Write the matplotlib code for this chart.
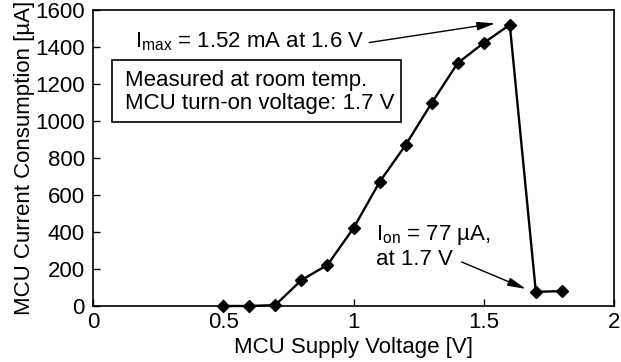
import matplotlib
matplotlib.use("Agg")
import matplotlib.pyplot as plt
from matplotlib.patches import Rectangle

plt.rcParams["font.family"] = ["Liberation Sans", "DejaVu Sans"]
plt.rcParams["mathtext.fontset"] = "custom"
plt.rcParams["mathtext.rm"] = "Liberation Sans"
plt.rcParams["mathtext.it"] = "Liberation Sans"

# ── Measured supply sweep ───────────────────────────────────────────────────────
voltage_v  = [0.5, 0.6, 0.7, 0.8, 0.9, 1.0, 1.1, 1.2, 1.3, 1.4, 1.5, 1.6, 1.7, 1.8]
current_ua = [0, 0, 5, 140, 222, 421, 670, 870, 1097, 1313, 1422, 1520, 77, 80]

x_ticks = [0, 0.5, 1, 1.5, 2]
x_tick_labels = ["0", "0.5", "1", "1.5", "2"]
y_ticks = [0, 200, 400, 600, 800, 1000, 1200, 1400, 1600]

fig = plt.figure(figsize=(6.21, 3.62), dpi=100)
ax = fig.add_axes([0.1498, 0.1547, 0.8389, 0.8177])

ax.plot(voltage_v, current_ua, color="black", lw=1.7, marker="D",
        markersize=6.5, markerfacecolor="black", markeredgecolor="black",
        clip_on=False, zorder=3)

ax.set_xlim(0, 2)
ax.set_ylim(0, 1600)
ax.set_xticks(x_ticks)
ax.set_xticklabels(x_tick_labels)
ax.set_yticks(y_ticks)
ax.tick_params(direction="in", length=5, width=1, labelsize=16,
               top=False, right=False)
ax.tick_params(axis="y", pad=6)
ax.tick_params(axis="x", pad=4)
for s in ax.spines.values():
    s.set_linewidth(1.2)

ax.set_xlabel("MCU Supply Voltage [V]", fontsize=16, labelpad=3)
ax.set_ylabel("MCU Current Consumption [µA]", fontsize=16, labelpad=0)

arrow = dict(arrowstyle="-|>,head_length=1.1,head_width=0.25", color="black",
             lw=1.0, shrinkA=0, shrinkB=0)

# peak current callout
ax.text(0.16, 1427, r"I$_{\mathrm{max}}$ = 1.52 mA at 1.6 V",
        fontsize=16, va="center", ha="left")
ax.annotate("", xy=(1.545, 1528), xytext=(1.06, 1424), arrowprops=arrow)

# turn-on current callout
ax.text(1.085, 322, "I$_{\\mathrm{on}}$ = 77 µA,\nat 1.7 V",
        fontsize=16, va="center", ha="left", linespacing=1.15)
ax.annotate("", xy=(1.662, 92), xytext=(1.415, 238), arrowprops=arrow)

# measurement conditions box
ax.add_patch(Rectangle((0.073, 995), 1.108, 335, facecolor="white",
                       edgecolor="black", lw=1.2, zorder=4))
ax.text(0.123, 1157, "Measured at room temp.\nMCU turn-on voltage: 1.7 V",
        fontsize=16, va="center", ha="left", linespacing=1.15, zorder=5)

fig.savefig("out.png", dpi=100)
